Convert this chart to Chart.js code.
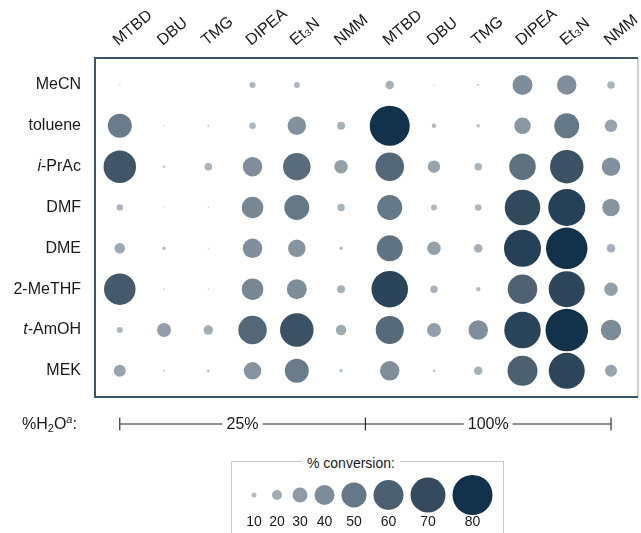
<!DOCTYPE html>
<html>
<head>
<meta charset="utf-8">
<script src="https://cdn.jsdelivr.net/npm/chart.js@4.4.1/dist/chart.umd.min.js"></script>
<style>
  body { margin: 0; background: #fff; }
  #wrap { position: relative; width: 641px; height: 533px; overflow: hidden; font-family: "Liberation Sans", Arial, sans-serif; }
  #main { position: absolute; left: 0; top: 0; }
  #legendBox { position: absolute; left: 231px; top: 461px; width: 273px; height: 100px; border: 1.5px solid #c9c9c9; box-sizing: border-box; }
  #legendTitle { position: absolute; left: 302px; top: 455px; padding: 0 5px; background: #fff; font-size: 14px; line-height: 16px; color: #1a1a1a; }
  #legend { position: absolute; left: 231px; top: 462px; }
</style>
</head>
<body>
<div id="wrap">
  <canvas id="main" width="641" height="533"></canvas>
  <div id="legendBox"></div>
  <div id="legendTitle">% conversion:</div>
  <canvas id="legend" width="273" height="71"></canvas>
</div>
<script>
const solvents = ['MeCN', 'toluene', 'i-PrAc', 'DMF', 'DME', '2-MeTHF', 't-AmOH', 'MEK'];
const bases = ['MTBD', 'DBU', 'TMG', 'DIPEA', 'Et₃N', 'NMM'];
const waterLevels = ['25%', '100%'];

// % conversion, one row per solvent, one column per base
const conv25 = [
  [3, 0, 0, 12, 12, 0],
  [48, 3, 4, 13, 37, 16],
  [65, 5, 15, 39, 55, 27],
  [13, 2, 3, 43, 50, 15],
  [21, 7, 3, 39, 35, 7],
  [63, 3, 3, 43, 40, 16],
  [12, 28, 19, 57, 67, 21],
  [24, 4, 6, 35, 48, 7]
];
const conv100 = [
  [17, 3, 4, 40, 39, 15],
  [80, 9, 7, 33, 50, 25],
  [57, 25, 15, 53, 67, 37],
  [50, 12, 13, 71, 74, 35],
  [52, 27, 17, 74, 83, 17],
  [73, 15, 9, 59, 72, 27],
  [56, 28, 39, 73, 85, 41],
  [39, 5, 17, 60, 72, 24]
];
const legendValues = [10, 20, 30, 40, 50, 60, 70, 80];

Chart.defaults.font.family = '"Liberation Sans", Arial, sans-serif';
const textColor = '#1a1a1a';

// colour ramp, one stop every 10 %
const convStops = ['#c4cad0', '#b2bac2', '#a0abb4', '#8e9ba6', '#7e8d9a', '#657887', '#4b6071', '#344b5f', '#12324b'];
function hexToRgb(h) {
  return [1, 3, 5].map(i => parseInt(h.slice(i, i + 2), 16));
}
function convColor(v) {
  const t = Math.min(Math.max(v, 0), 80) / 10;
  const i = Math.min(Math.floor(t), 7);
  const f = t - i;
  const a = hexToRgb(convStops[i]);
  const b = hexToRgb(convStops[i + 1]);
  const c = a.map((n, k) => Math.round(n + (b[k] - n) * f));
  return `rgb(${c[0]},${c[1]},${c[2]})`;
}
const bubbleRadius = v => v / 4;

// second water level sits slightly apart from the first
const groupShift = 6.1;
const colPositions = waterLevels.flatMap((w, g) => bases.map((b, i) => i + g * groupShift));

function cellPoints(table, offset) {
  const pts = [];
  table.forEach((row, r) => {
    row.forEach((v, c) => pts.push({ x: c + offset, y: r, v: v }));
  });
  return pts;
}

function drawRich(ctx, parts, x, y) {
  // parts: [text, size, dy, italic]
  parts.forEach(p => {
    ctx.font = `${p[3] ? 'italic ' : ''}${p[1]}px "Liberation Sans", Arial, sans-serif`;
    ctx.fillText(p[0], x, y + p[2]);
    x += ctx.measureText(p[0]).width;
  });
  return x;
}

const framePlugin = {
  id: 'frame',
  afterDraw(chart) {
    const { ctx, chartArea: a, scales: { x, y } } = chart;
    ctx.save();

    // box round the plot
    ctx.lineWidth = 1.5;
    ctx.strokeStyle = '#b7c0c8';
    ctx.beginPath();
    ctx.moveTo(a.right, a.top);
    ctx.lineTo(a.right, a.bottom);
    ctx.stroke();
    ctx.lineWidth = 2;
    ctx.strokeStyle = '#3d5467';
    ctx.beginPath();
    ctx.moveTo(a.right, a.top);
    ctx.lineTo(a.left, a.top);
    ctx.lineTo(a.left, a.bottom);
    ctx.lineTo(a.right, a.bottom);
    ctx.stroke();

    // solvent labels
    ctx.fillStyle = textColor;
    ctx.textBaseline = 'middle';
    ctx.textAlign = 'left';
    solvents.forEach((name, i) => {
      const py = y.getPixelForValue(i);
      const m = name.match(/^([a-z])(-.*)$/);
      const parts = m ? [[m[1], 16, 0, true], [m[2], 16, 0, false]] : [[name, 16, 0, false]];
      let w = 0;
      parts.forEach(p => {
        ctx.font = `${p[3] ? 'italic ' : ''}${p[1]}px "Liberation Sans", Arial, sans-serif`;
        w += ctx.measureText(p[0]).width;
      });
      drawRich(ctx, parts, a.left - 14 - w, py);
    });

    // water bracket
    const by = a.bottom + 27;
    const xs = [x.getPixelForValue(0), x.getPixelForValue((bases.length - 1 + groupShift) / 2), x.getPixelForValue(bases.length - 1 + groupShift)];
    ctx.strokeStyle = '#222';
    ctx.lineWidth = 1.1;
    xs.forEach(px => {
      ctx.beginPath();
      ctx.moveTo(px, by - 6.5);
      ctx.lineTo(px, by + 6.5);
      ctx.stroke();
    });
    ctx.font = '16px "Liberation Sans", Arial, sans-serif';
    ctx.textAlign = 'center';
    waterLevels.forEach((lab, g) => {
      const x0 = xs[g], x1 = xs[g + 1];
      const cx = (x0 + x1) / 2;
      const hw = ctx.measureText(lab).width / 2 + 4;
      ctx.beginPath();
      ctx.moveTo(x0, by);
      ctx.lineTo(cx - hw, by);
      ctx.moveTo(cx + hw, by);
      ctx.lineTo(x1, by);
      ctx.stroke();
      ctx.fillText(lab, cx, by + 1);
    });
    ctx.textAlign = 'left';
    drawRich(ctx, [['%H', 16, 1, false], ['2', 11, 5, false], ['O', 16, 1, false], ['a', 11, -4, true], [':', 16, 1, false]], 22, by);

    ctx.restore();
  }
};

new Chart(document.getElementById('main'), {
  type: 'bubble',
  data: {
    datasets: waterLevels.map((w, g) => ({
      label: w,
      data: cellPoints(g === 0 ? conv25 : conv100, g * groupShift),
      backgroundColor: ctx => convColor(ctx.raw.v),
      radius: ctx => bubbleRadius(ctx.raw.v),
      borderWidth: 0,
      clip: false
    }))
  },
  options: {
    responsive: false,
    animation: false,
    events: [],
    layout: { autoPadding: false, padding: { left: 95, right: 3, top: 0, bottom: 136 } },
    plugins: { legend: { display: false }, tooltip: { enabled: false } },
    scales: {
      x: {
        type: 'linear',
        position: 'top',
        min: -0.56,
        max: 11.71,
        grid: { display: false, drawTicks: false },
        border: { display: false },
        afterBuildTicks: s => { s.ticks = colPositions.map(v => ({ value: v })); },
        afterFit: s => { s.height = 58; s.paddingLeft = 0; s.paddingRight = 0; },
        ticks: {
          minRotation: 40,
          maxRotation: 40,
          autoSkip: false,
          padding: 8,
          labelOffset: 8,
          color: textColor,
          font: { size: 16 },
          callback: (v, i) => bases[i % bases.length]
        }
      },
      y: { type: 'linear', reverse: true, min: -0.66, max: 7.64, display: false }
    }
  },
  plugins: [framePlugin]
});

// legend bubbles spaced by their sizes
const legendX = [];
legendValues.forEach((v, i) => {
  if (i === 0) legendX.push(0);
  else legendX.push(legendX[i - 1] + Math.max(23, bubbleRadius(legendValues[i - 1]) + bubbleRadius(v) + 7));
});

new Chart(document.getElementById('legend'), {
  type: 'bubble',
  data: {
    datasets: [{
      data: legendValues.map((v, i) => ({ x: legendX[i], y: 0, v: v })),
      backgroundColor: ctx => convColor(ctx.raw.v),
      radius: ctx => bubbleRadius(ctx.raw.v),
      borderWidth: 0,
      clip: false
    }]
  },
  options: {
    responsive: false,
    animation: false,
    events: [],
    layout: { autoPadding: false, padding: { top: 17.5, left: 0, right: 0, bottom: 0 } },
    plugins: { legend: { display: false }, tooltip: { enabled: false } },
    scales: {
      x: {
        type: 'linear',
        position: 'bottom',
        min: -23,
        max: 250,
        grid: { display: false, drawTicks: false },
        border: { display: false },
        afterBuildTicks: s => { s.ticks = legendX.map(v => ({ value: v })); },
        afterFit: s => { s.height = 22.5; s.paddingLeft = 0; s.paddingRight = 0; },
        ticks: {
          minRotation: 0,
          maxRotation: 0,
          autoSkip: false,
          padding: 3,
          color: textColor,
          font: { size: 14 },
          callback: (v, i) => legendValues[i]
        }
      },
      y: { display: false, min: -1, max: 1 }
    }
  }
});
</script>
</body>
</html>
